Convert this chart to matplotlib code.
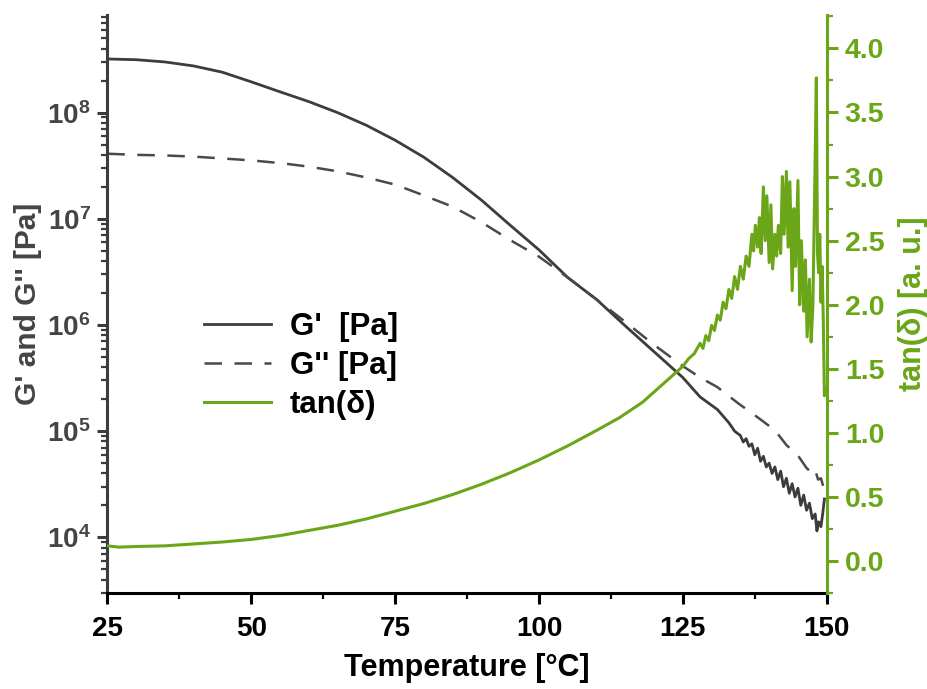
import matplotlib
matplotlib.use('Agg')
import matplotlib.pyplot as plt
from matplotlib.ticker import LogLocator, MultipleLocator, FixedLocator, NullFormatter

plt.rcParams['font.family'] = ['Liberation Sans', 'DejaVu Sans']
plt.rcParams['font.weight'] = 'bold'
plt.rcParams['mathtext.fontset'] = 'custom'
plt.rcParams['mathtext.rm'] = 'Liberation Sans:bold'
plt.rcParams['mathtext.bf'] = 'Liberation Sans:bold'
plt.rcParams['mathtext.default'] = 'regular'

GREEN = '#6aa618'
GRAY = '#3c3c3c'

# ---- data ----
g1_temp = [25, 30, 35, 40, 45, 50, 55, 60, 65, 70, 75, 80, 85, 90, 95, 100, 105, 110,
           115, 120, 125, 128, 131, 133, 134, 135, 135.5, 136, 136.5, 137, 137.5, 138,
           138.5, 139, 139.5, 140, 140.5, 141, 141.5, 142, 142.5, 143, 143.5, 144,
           144.5, 145, 145.5, 146, 146.5, 147, 147.5, 148, 148.3, 148.6, 149, 149.3, 149.6]
g1_pa = [3.2e8, 3.15e8, 3.0e8, 2.75e8, 2.4e8, 1.95e8, 1.57e8, 1.27e8, 1.0e8, 7.6e7,
         5.5e7, 3.8e7, 2.45e7, 1.5e7, 8.7e6, 5.1e6, 2.8e6, 1.74e6, 9.8e5, 5.6e5, 3.2e5,
         2.1e5, 1.6e5, 1.2e5, 1.0e5, 9.1e4, 7.9e4, 8.5e4, 7.2e4, 7.6e4, 6.0e4, 6.9e4,
         5.2e4, 5.8e4, 4.6e4, 5.0e4, 4.0e4, 4.6e4, 3.5e4, 4.2e4, 3.0e4, 3.6e4, 2.6e4,
         3.2e4, 2.4e4, 2.9e4, 2.0e4, 2.5e4, 1.8e4, 2.1e4, 1.5e4, 1.66e4, 1.15e4, 1.4e4,
         1.26e4, 1.66e4, 2.3e4]

g2_temp = [25, 30, 35, 40, 45, 50, 55, 60, 65, 70, 75, 80, 85, 90, 95, 100, 105, 110,
           115, 120, 125, 128, 131, 134.5, 138, 141, 143, 145, 146.5, 147.5, 148, 148.5,
           149, 149.5, 150]
g2_pa = [4.1e7, 4.0e7, 3.95e7, 3.85e7, 3.7e7, 3.55e7, 3.35e7, 3.1e7, 2.8e7, 2.45e7,
         2.1e7, 1.66e7, 1.3e7, 9.3e6, 6.3e6, 4.4e6, 2.8e6, 1.74e6, 1.07e6, 6.5e5, 4.1e5,
         3.2e5, 2.6e5, 1.85e5, 1.35e5, 1.02e5, 7.4e4, 5.9e4, 4.5e4, 4.0e4, 4.3e4, 3.5e4,
         3.6e4, 2.9e4, 2.5e4]

tan_temp = [25, 27, 30, 35, 40, 45, 50, 55, 60, 65, 70, 75, 80, 85, 90, 95, 100, 105,
            110, 114, 118, 121, 123, 125, 126, 127, 128, 128.5, 129, 129.5, 130, 130.5,
            131, 131.5, 132, 132.5, 133, 133.5, 134, 134.5, 135, 135.5, 136, 136.5, 137,
            137.3, 137.6, 138, 138.3, 138.6, 139, 139.3, 139.6, 140, 140.3, 140.6, 141,
            141.3, 141.6, 142, 142.3, 142.6, 143, 143.3, 143.6, 144, 144.3, 144.6, 145,
            145.3, 145.6, 146, 146.3, 146.6, 147, 147.3, 147.6, 147.9, 148.2, 148.4,
            148.6, 148.8, 149, 149.2, 149.4, 149.6, 149.8]
tan_delta = [0.12, 0.11, 0.115, 0.12, 0.135, 0.15, 0.17, 0.20, 0.24, 0.28, 0.33, 0.39,
             0.45, 0.52, 0.60, 0.69, 0.79, 0.90, 1.02, 1.12, 1.24, 1.36, 1.44, 1.52, 1.58,
             1.62, 1.70, 1.66, 1.76, 1.72, 1.84, 1.80, 1.92, 1.88, 2.02, 1.97, 2.12, 2.05,
             2.22, 2.12, 2.30, 2.20, 2.38, 2.30, 2.55, 2.42, 2.62, 2.45, 2.68, 2.40, 2.92,
             2.50, 2.85, 2.33, 2.78, 2.28, 2.55, 2.38, 2.62, 2.40, 3.00, 2.55, 3.04, 2.45,
             2.96, 2.11, 2.75, 2.30, 2.97, 2.00, 2.50, 1.95, 2.35, 1.75, 2.20, 1.71, 2.00,
             2.86, 3.77, 2.40, 2.25, 2.55, 2.02, 2.30, 1.90, 1.29, 1.35]

x_ticks = [25, 50, 75, 100, 125, 150]

fig = plt.figure(figsize=(9.27, 6.89), dpi=100)
ax = fig.add_axes([0.1158, 0.1389, 0.7760, 0.8393])
ax2 = ax.twinx()

ax.plot(g1_temp, g1_pa, color=GRAY, lw=2.0, label="G'  [Pa]")
ax.plot(g2_temp, g2_pa, color='#4a4a4a', lw=1.8, linestyle=(0, (7, 5)), label="G'' [Pa]")
ax2.plot(tan_temp, tan_delta, color=GREEN, lw=2.2, label='tan(δ)')

# left axis (log)
ax.set_yscale('log')
ax.set_ylim(2972, 8.3e8)
ax.set_xlim(25, 150)
ax.yaxis.set_major_locator(FixedLocator([1e4, 1e5, 1e6, 1e7, 1e8]))
ax.yaxis.set_minor_locator(LogLocator(base=10, subs=range(2, 10), numticks=20))
ax.yaxis.set_minor_formatter(NullFormatter())
ax.set_xticks(x_ticks)
ax.xaxis.set_minor_locator(MultipleLocator(12.5))

# right axis
ax2.set_ylim(-0.25, 4.26)
ax2.yaxis.set_major_locator(MultipleLocator(0.5))
ax2.yaxis.set_minor_locator(MultipleLocator(0.25))
ax2.yaxis.set_major_formatter(plt.FuncFormatter(lambda v, p: f'{v:.1f}'))

for a in (ax, ax2):
    for s in a.spines.values():
        s.set_linewidth(2.2)
    a.spines['top'].set_visible(False)

ax.spines['left'].set_color(GRAY)
ax.spines['bottom'].set_color('black')
ax.spines['right'].set_visible(False)
ax2.spines['left'].set_visible(False)
ax2.spines['bottom'].set_visible(False)
ax2.spines['right'].set_color(GREEN)

ax.tick_params(axis='y', which='major', direction='out', length=7, width=2.2,
               color=GRAY, labelcolor='#444444', labelsize=20, pad=5)
ax.tick_params(axis='y', which='minor', direction='out', length=4, width=1.6, color=GRAY)
ax.tick_params(axis='x', which='major', direction='out', length=8, width=2.2,
               color='black', labelsize=20, pad=8)
ax.tick_params(axis='x', which='minor', direction='out', length=4.5, width=1.6, color='black')
ax2.tick_params(axis='y', which='major', direction='out', length=8, width=2.2,
                color=GREEN, labelcolor=GREEN, labelsize=20.5, pad=5)
ax2.tick_params(axis='y', which='minor', direction='out', length=4.5, width=1.6, color=GREEN)

ax.set_xlabel('Temperature [°C]', fontsize=22, fontweight='bold', labelpad=8)
ax.set_ylabel("G' and G'' [Pa]", fontsize=21.5, fontweight='bold', color='#444444', labelpad=3.5)
ax2.set_ylabel('tan(δ) [a. u.]', fontsize=22, fontweight='bold', color=GREEN, labelpad=10)

handles = ax.get_lines() + ax2.get_lines()
leg = ax.legend(handles=handles, labels=[h.get_label() for h in handles],
                loc='upper left', bbox_to_anchor=(0.1344, 0.487), frameon=False,
                fontsize=22.5, handlelength=2.15, handletextpad=0.6, labelspacing=0.3,
                borderpad=0, borderaxespad=0)

fig.savefig('out.png', dpi=100, facecolor='white')
